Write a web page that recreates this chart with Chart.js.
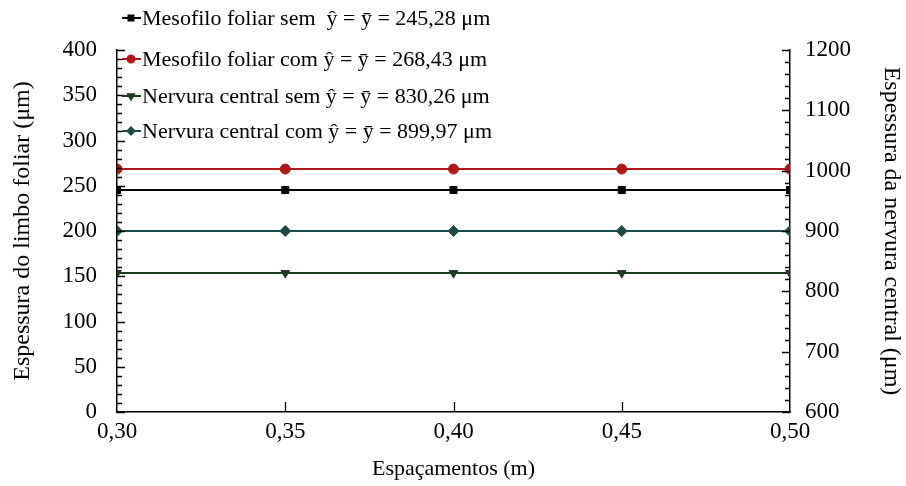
<!DOCTYPE html>
<html>
<head>
<meta charset="utf-8">
<script src="https://cdn.jsdelivr.net/npm/chart.js@4.4.1/dist/chart.umd.min.js"></script>
<style>
  html, body { margin: 0; background: #fff; }
  #wrap { width: 906px; height: 486px; }
</style>
</head>
<body>
<div id="wrap"><canvas id="c"></canvas></div>
<script>
// spacing between plants (m)
const espacamentos = [0.30, 0.35, 0.40, 0.45, 0.50];

// leaf blade thickness (left axis)
const mesofiloSem = [245.28, 245.28, 245.28, 245.28, 245.28];
const mesofiloCom = [268.43, 268.43, 268.43, 268.43, 268.43];
// midrib thickness (right axis)
const nervuraSem = [830.26, 830.26, 830.26, 830.26, 830.26];
const nervuraCom = [899.97, 899.97, 899.97, 899.97, 899.97];

const labels = [
  "Mesofilo foliar sem  ŷ = ȳ = 245,28 μm",
  "Mesofilo foliar com ŷ = ȳ = 268,43 μm",
  "Nervura central sem ŷ = ȳ = 830,26 μm",
  "Nervura central com ŷ = ȳ = 899,97 μm"
];

const FONT = '"Liberation Serif", "Times New Roman", serif';

const toPoints = (ys) => espacamentos.map((x, i) => ({ x: x, y: ys[i] }));
const fmt = (v) => v.toFixed(2).replace(".", ",");

function serie(label, ys, color, style, axis, rot) {
  return {
    label: label,
    data: toPoints(ys),
    yAxisID: axis,
    borderColor: color,
    backgroundColor: color,
    borderWidth: 2,
    pointStyle: style,
    pointRadius: style === "rectRot" ? 5.5 : 5,
    pointRotation: rot || 0,
    pointBorderWidth: 1,
    tension: 0
  };
}

// inward tick marks, major + minor
const tickMarks = {
  id: "tickMarks",
  afterDraw(chart) {
    const ctx = chart.ctx;
    const x = chart.scales.x, yl = chart.scales.y, yr = chart.scales.y2;
    ctx.save();
    ctx.strokeStyle = "#000";
    ctx.lineWidth = 1.3;
    ctx.beginPath();
    for (let v = 0; v <= 400; v += 10) {
      const p = Math.round(yl.getPixelForValue(v)) + 0.5;
      const len = v % 50 === 0 ? 8 : 5;
      ctx.moveTo(yl.right, p); ctx.lineTo(yl.right + len, p);
    }
    for (let v = 600; v <= 1200; v += 20) {
      const p = Math.round(yr.getPixelForValue(v)) + 0.5;
      const len = v % 100 === 0 ? 8 : 5;
      ctx.moveTo(yr.left, p); ctx.lineTo(yr.left - len, p);
    }
    [0.35, 0.40, 0.45].forEach(v => {
      const p = Math.round(x.getPixelForValue(v)) + 0.5;
      ctx.moveTo(p, x.top); ctx.lineTo(p, x.top - 10);
    });
    ctx.stroke();
    ctx.restore();
  }
};

// legend drawn at the top-left, overlapping the plot
const legendBox = {
  id: "legendBox",
  afterDraw(chart) {
    const ctx = chart.ctx;
    const rows = [18, 59, 96, 131];
    ctx.save();
    ctx.font = "22px " + FONT;
    ctx.textBaseline = "middle";
    chart.data.datasets.forEach((ds, i) => {
      const y = rows[i];
      ctx.strokeStyle = ds.borderColor;
      ctx.fillStyle = ds.backgroundColor;
      ctx.lineWidth = 2;
      ctx.beginPath();
      ctx.moveTo(122, y); ctx.lineTo(141, y);
      ctx.stroke();
      Chart.helpers.drawPoint(ctx, {
        pointStyle: ds.pointStyle, radius: 3.5, rotation: ds.pointRotation, borderWidth: 1
      }, 131, y);
      ctx.fillStyle = "#000";
      ctx.fillText(ds.label, 142, y + 1);
    });
    ctx.restore();
  }
};

new Chart(document.getElementById("c"), {
  type: "line",
  data: {
    datasets: [
      serie(labels[0], mesofiloSem, "#000000", "rect", "y"),
      serie(labels[1], mesofiloCom, "#b01818", "circle", "y"),
      serie(labels[2], nervuraSem, "#1d3d1d", "triangle", "y2", 180),
      serie(labels[3], nervuraCom, "#1d4a4a", "rectRot", "y2")
    ]
  },
  options: {
    responsive: true,
    maintainAspectRatio: false,
    animation: false,
    layout: { padding: { top: 50, left: 0, right: 0, bottom: 0 } },
    plugins: { legend: { display: false }, tooltip: { enabled: false } },
    scales: {
      x: {
        type: "linear",
        min: 0.30, max: 0.50,
        afterFit: (s) => { s.height = 74; },
        afterBuildTicks: (s) => { s.ticks = espacamentos.map(v => ({ value: v })); },
        grid: { display: false, drawTicks: false },
        border: { display: true, color: "#000", width: 1.5 },
        ticks: { color: "#000", font: { family: FONT, size: 23 }, padding: 6, maxRotation: 0, callback: (v) => fmt(v) },
        title: { display: true, text: "Espaçamentos (m)", color: "#000", font: { family: FONT, size: 22 }, padding: { top: 3 } }
      },
      y: {
        position: "left",
        min: 0, max: 400,
        afterFit: (s) => { s.width = 117; },
        grid: { display: false, drawTicks: false },
        border: { display: true, color: "#000", width: 1.5 },
        ticks: { stepSize: 50, color: "#000", font: { family: FONT, size: 23 }, padding: 20 },
        title: { display: true, text: "Espessura do limbo foliar (μm)", color: "#000", font: { family: FONT, size: 24 }, padding: { top: 8, bottom: 0 } }
      },
      y2: {
        position: "right",
        min: 600, max: 1200,
        afterFit: (s) => { s.width = 116; },
        grid: { display: false, drawTicks: false },
        border: { display: true, color: "#000", width: 1.5 },
        ticks: { stepSize: 100, color: "#000", font: { family: FONT, size: 23 }, padding: 15, callback: (v) => String(v) },
        title: { display: true, text: "Espessura da nervura central (μm)", color: "#000", font: { family: FONT, size: 24 }, padding: { top: 0, bottom: 0 } }
      }
    }
  },
  plugins: [tickMarks, legendBox]
});
</script>
</body>
</html>
